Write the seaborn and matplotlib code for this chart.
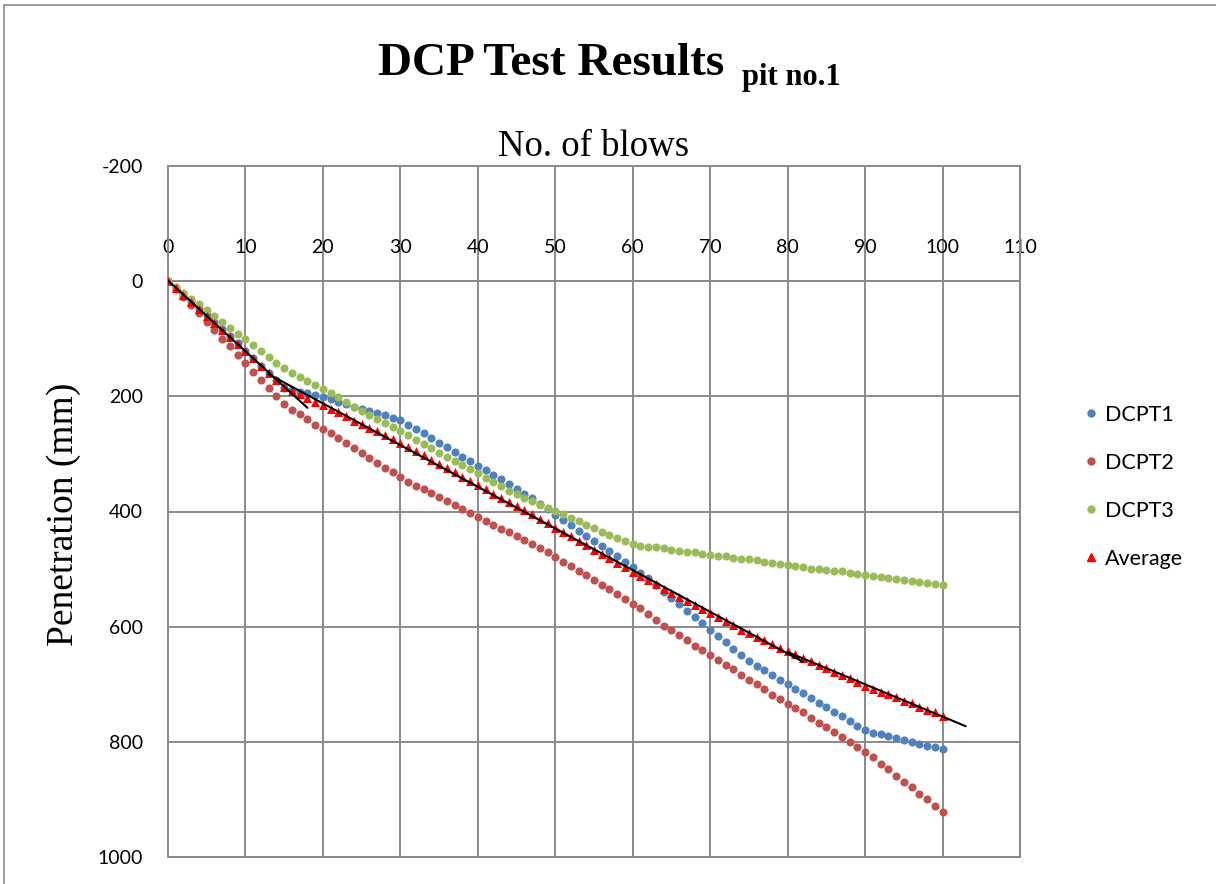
import numpy as np
import pandas as pd
import matplotlib
matplotlib.use("Agg")
import matplotlib.pyplot as plt
import seaborn as sns
from matplotlib.lines import Line2D

# ---- data: penetration (mm) after each blow, three DCP tests ----
blows = list(range(0, 101))

dcpt1 = [0, 11, 23, 35, 47, 59, 71, 83, 96, 108,
         121, 134, 147, 160, 172, 185, 189, 192, 195, 198,
         201, 205, 209, 213, 218, 222, 225, 229, 233, 237,
         241, 249, 256, 264, 273, 281, 288, 296, 305, 313,
         321, 328, 336, 344, 352, 361, 369, 377, 387, 396,
         406, 415, 424, 433, 442, 451, 460, 469, 478, 487,
         496, 506, 516, 528, 540, 551, 561, 572, 583, 594,
         605, 616, 626, 638, 649, 659, 668, 676, 684, 692,
         700, 708, 716, 724, 732, 740, 748, 756, 764, 773,
         780, 784, 787, 790, 793, 797, 800, 804, 807, 809,
         813]

dcpt2 = [0, 14, 27, 42, 56, 71, 85, 100, 113, 129,
         142, 157, 171, 186, 199, 214, 223, 231, 240, 249,
         256, 264, 272, 281, 290, 299, 307, 315, 324, 332,
         340, 348, 355, 361, 368, 375, 381, 388, 395, 402,
         409, 416, 423, 430, 436, 442, 449, 456, 464, 471,
         479, 487, 495, 503, 511, 519, 527, 535, 544, 552,
         560, 568, 578, 589, 598, 606, 615, 624, 633, 641,
         649, 658, 666, 674, 684, 692, 700, 709, 718, 726,
         734, 742, 749, 758, 768, 775, 783, 791, 800, 809,
         817, 827, 838, 848, 859, 869, 879, 890, 900, 911,
         922]

dcpt3 = [0, 10, 20, 31, 40, 50, 60, 71, 81, 91,
         101, 111, 122, 132, 142, 151, 160, 166, 174, 181,
         188, 195, 202, 210, 218, 225, 232, 239, 247, 254,
         261, 268, 275, 283, 290, 298, 305, 312, 319, 326,
         334, 341, 348, 356, 364, 370, 376, 382, 388, 394,
         399, 405, 411, 417, 423, 428, 435, 440, 446, 452,
         457, 460, 461, 462, 464, 466, 468, 470, 471, 473,
         475, 477, 478, 480, 482, 483, 485, 487, 489, 491,
         493, 494, 497, 499, 500, 501, 503, 504, 506, 508,
         510, 512, 514, 515, 517, 519, 521, 522, 525, 526,
         528]

series_names = ["DCPT1", "DCPT2", "DCPT3", "Average"]
series_colors = ["#4F81BD", "#C0504D", "#9BBB59", "#FF0000"]
series_markers = ["o", "o", "o", "^"]

x_ticks = list(range(0, 111, 10))
y_ticks = list(range(-200, 1001, 200))

# piecewise linear trend of the average: (fit range, drawn range) in blows
trend_segments = [((0, 15), (0, 18)), ((15, 80), (13, 82)), ((80, 100), (80, 103))]

average = np.mean(np.array([dcpt1, dcpt2, dcpt3], dtype=float), axis=0)
values = [dcpt1, dcpt2, dcpt3, list(average)]

df = pd.concat(
    [pd.DataFrame({"blows": blows, "pen": v, "series": n}) for n, v in zip(series_names, values)],
    ignore_index=True,
)

# ---- style ----
sns.set_theme(style="white")
plt.rcParams["font.family"] = ["Lato", "DejaVu Sans"]
plt.rcParams["axes.unicode_minus"] = False
plt.rcParams["text.color"] = "black"

W, H = 1216, 884
fig = plt.figure(figsize=(W / 100, H / 100), dpi=100)
fig.patch.set_facecolor("white")
ax = fig.add_axes([168 / W, 1 - 857 / H, (1020 - 168) / W, (857 - 166) / H])

grid_c = "#8A8A8A"

for name, color, marker in zip(series_names, series_colors, series_markers):
    sub = df[df["series"] == name]
    sns.scatterplot(data=sub, x="blows", y="pen", color=color, marker=marker,
                    s=42 if marker == "^" else 34, linewidth=0, label=name,
                    ax=ax, zorder=3, legend=False)

# black trend segments fitted to the average
for (f0, f1), (d0, d1) in trend_segments:
    mask = (np.array(blows) >= f0) & (np.array(blows) <= f1)
    k, b = np.polyfit(np.array(blows)[mask], average[mask], 1)
    xs = np.array([d0, d1], dtype=float)
    sns.lineplot(x=xs, y=k * xs + b, color="black", linewidth=1.5,
                 estimator=None, sort=False, ax=ax, zorder=4, legend=False)

ax.set_xlim(0, 110)
ax.set_ylim(1000, -200)
ax.set_xticks(x_ticks)
ax.set_yticks(y_ticks)
ax.set_xlabel("")
ax.set_ylabel("")

ax.grid(True, color=grid_c, linewidth=1.4)
for gl in ax.get_xgridlines() + ax.get_ygridlines():
    gl.set_clip_on(False)
ax.set_axisbelow(True)

# horizontal axis crosses at zero, labels above it
ax.xaxis.tick_top()
ax.spines["top"].set_position(("data", 0))
for side in ["top", "bottom", "left", "right"]:
    ax.spines[side].set_color(grid_c)
    ax.spines[side].set_linewidth(1.4)
ax.tick_params(axis="x", length=0, pad=18, labelsize=14, colors="black")
ax.tick_params(axis="y", length=0, pad=18, labelsize=14, colors="black")

# legend
handles = [Line2D([], [], linestyle="none", marker=m, color=c, markersize=5.5 if m == "^" else 5)
           for c, m in zip(series_colors, series_markers)]
fig.legend(handles, series_names, loc="center left", bbox_to_anchor=(1074 / W, 1 - 487 / H),
           frameon=False, fontsize=15.5, handlelength=0.8, handletextpad=0.25,
           labelspacing=1.3, borderaxespad=0)

# titles
serif = ["Liberation Serif", "DejaVu Serif"]
fig.text(378 / W, 1 - 75 / H, "DCP Test Results", family=serif, fontsize=34,
         fontweight="bold", ha="left", va="baseline", color="black")
fig.text(742 / W, 1 - 85 / H, "pit no.1", family=serif, fontsize=22,
         fontweight="bold", ha="left", va="baseline", color="black")
fig.text(594 / W, 1 - 156 / H, "No. of blows", family=serif, fontsize=26.5,
         ha="center", va="baseline", color="black")
fig.text(64 / W, 1 - 514 / H, "Penetration (mm)", family=serif, fontsize=27,
         rotation=90, ha="center", va="center", color="black")

# chart frame (left and top edges)
fig.add_artist(Line2D([4 / W, 4 / W], [0, 1 - 5 / H], transform=fig.transFigure,
                      color="#8C8C8C", linewidth=1.2))
fig.add_artist(Line2D([4 / W, 1], [1 - 5 / H, 1 - 5 / H], transform=fig.transFigure,
                      color="#8C8C8C", linewidth=1.2))

fig.savefig("out.png", dpi=100, facecolor="white")
